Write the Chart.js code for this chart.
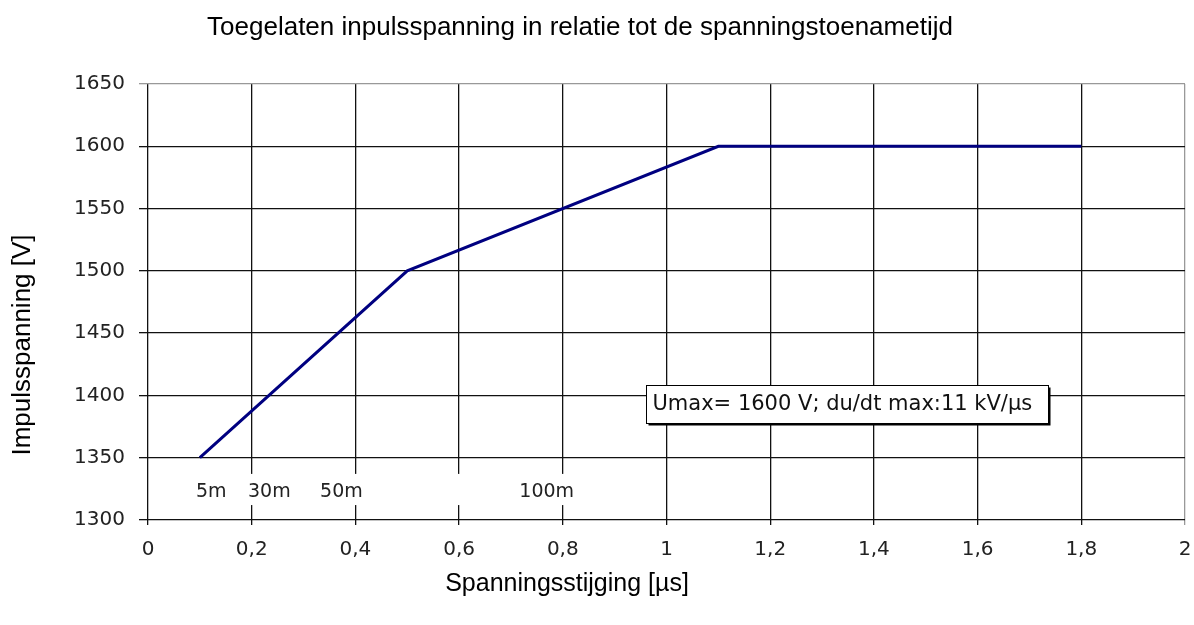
<!DOCTYPE html>
<html>
<head>
<meta charset="utf-8">
<script src="https://cdn.jsdelivr.net/npm/chart.js@4"></script>
<style>
  body { margin: 0; background: #fff; }
  #wrap { width: 1194px; height: 625px; }
</style>
</head>
<body>
<div id="wrap"><canvas id="myChart"></canvas></div>
<script>
// data
const riseTime = [0.1, 0.5, 1.1, 1.8];          // us
const pulseVoltage = [1350, 1500, 1600, 1600];  // V
const markLabels = ['5m', '30m', '50m', '100m'];
const markAt = [0.122, 0.234, 0.373, 0.769];
const noteText = 'Umax= 1600 V; du/dt max:11 kV/\u00b5s';

const tickFont = { family: 'DejaVu Sans', size: 20 };

// comma as decimal sign
function fmt(v) {
    return String(Math.round(v * 10) / 10).replace('.', ',');
}

// titles, white strip with labels and the text box
const extras = {
    id: 'extras',
    beforeDatasetsDraw(chart) {
        const ctx = chart.ctx;
        const x = chart.scales.x, y = chart.scales.y;
        ctx.save();
        // strip that hides the grid behind the labels
        ctx.fillStyle = '#fff';
        const l = x.getPixelForValue(0) + 2, r = x.getPixelForValue(0.9);
        const t = y.getPixelForValue(1337), b = y.getPixelForValue(1312);
        ctx.fillRect(l, t, r - l, b - t);
        ctx.fillStyle = '#222';
        ctx.font = '19px "DejaVu Sans"';
        ctx.textAlign = 'center';
        ctx.textBaseline = 'middle';
        for (let i = 0; i < markLabels.length; i++) {
            ctx.fillText(markLabels[i], x.getPixelForValue(markAt[i]), y.getPixelForValue(1322.5));
        }
        ctx.restore();
    },
    afterDatasetsDraw(chart) {
        const ctx = chart.ctx;
        const x = chart.scales.x, y = chart.scales.y;
        ctx.save();
        // note box
        const l = Math.round(x.getPixelForValue(0.96)) + 0.5;
        const r = Math.round(x.getPixelForValue(1.736)) + 0.5;
        const t = Math.round(y.getPixelForValue(1408.4)) + 0.5;
        const b = Math.round(y.getPixelForValue(1377.9)) + 0.5;
        ctx.fillStyle = '#fff';
        ctx.fillRect(l, t, r - l, b - t);
        ctx.strokeStyle = '#000';
        ctx.lineWidth = 1;
        ctx.strokeRect(l, t, r - l, b - t);
        ctx.lineWidth = 2;
        ctx.beginPath();
        ctx.moveTo(l + 2, b + 1);
        ctx.lineTo(r + 1, b + 1);
        ctx.lineTo(r + 1, t + 2);
        ctx.stroke();
        ctx.fillStyle = '#111';
        ctx.font = '21px "DejaVu Sans"';
        ctx.textAlign = 'left';
        ctx.textBaseline = 'middle';
        ctx.fillText(noteText, l + 6, (t + b) / 2);
        // chart title and axis titles
        ctx.fillStyle = '#000';
        ctx.textAlign = 'center';
        ctx.font = '26px "Liberation Sans"';
        ctx.fillText('Toegelaten inpulsspanning in relatie tot de spanningstoenametijd', 580, 28);
        ctx.font = '25px "Liberation Sans"';
        ctx.fillText('Spanningsstijging [\u00b5s]', 567, 584);
        ctx.translate(23, 345);
        ctx.rotate(-Math.PI / 2);
        ctx.font = '26px "Liberation Sans"';
        ctx.fillText('Impulsspanning [V]', 0, 0);
        ctx.restore();
    }
};

const ctx = document.getElementById('myChart').getContext('2d');
const myChart = new Chart(ctx, {
    type: 'line',
    data: {
        datasets: [{
            data: riseTime.map((t, i) => ({ x: t, y: pulseVoltage[i] })),
            borderColor: '#000080',
            borderWidth: 3,
            pointRadius: 0,
            tension: 0
        }]
    },
    options: {
        responsive: true,
        maintainAspectRatio: false,
        animation: false,
        layout: { padding: { top: 84, right: 9, left: 0, bottom: 0 } },
        plugins: {
            legend: { display: false },
            tooltip: { enabled: false }
        },
        scales: {
            x: {
                type: 'linear',
                min: 0,
                max: 2,
                afterFit(s) { s.height = 105; s.paddingRight = 0; s.paddingLeft = 0; },
                border: { display: false },
                grid: {
                    color: c => (c.tick && c.tick.value === 2) ? '#999' : '#111',
                    lineWidth: 1.3,
                    tickLength: 5
                },
                ticks: {
                    stepSize: 0.2,
                    padding: 13,
                    color: '#222',
                    font: tickFont,
                    callback: v => fmt(v)
                }
            },
            y: {
                min: 1300,
                max: 1650,
                afterFit(s) { s.width = 148; },
                border: { display: false },
                grid: {
                    color: c => (c.tick && c.tick.value === 1650) ? '#999' : '#111',
                    lineWidth: 1.3,
                    tickLength: 9
                },
                ticks: {
                    stepSize: 50,
                    padding: 14,
                    color: '#222',
                    font: tickFont,
                    callback: v => String(v)
                }
            }
        }
    },
    plugins: [extras]
});
</script>
</body>
</html>
